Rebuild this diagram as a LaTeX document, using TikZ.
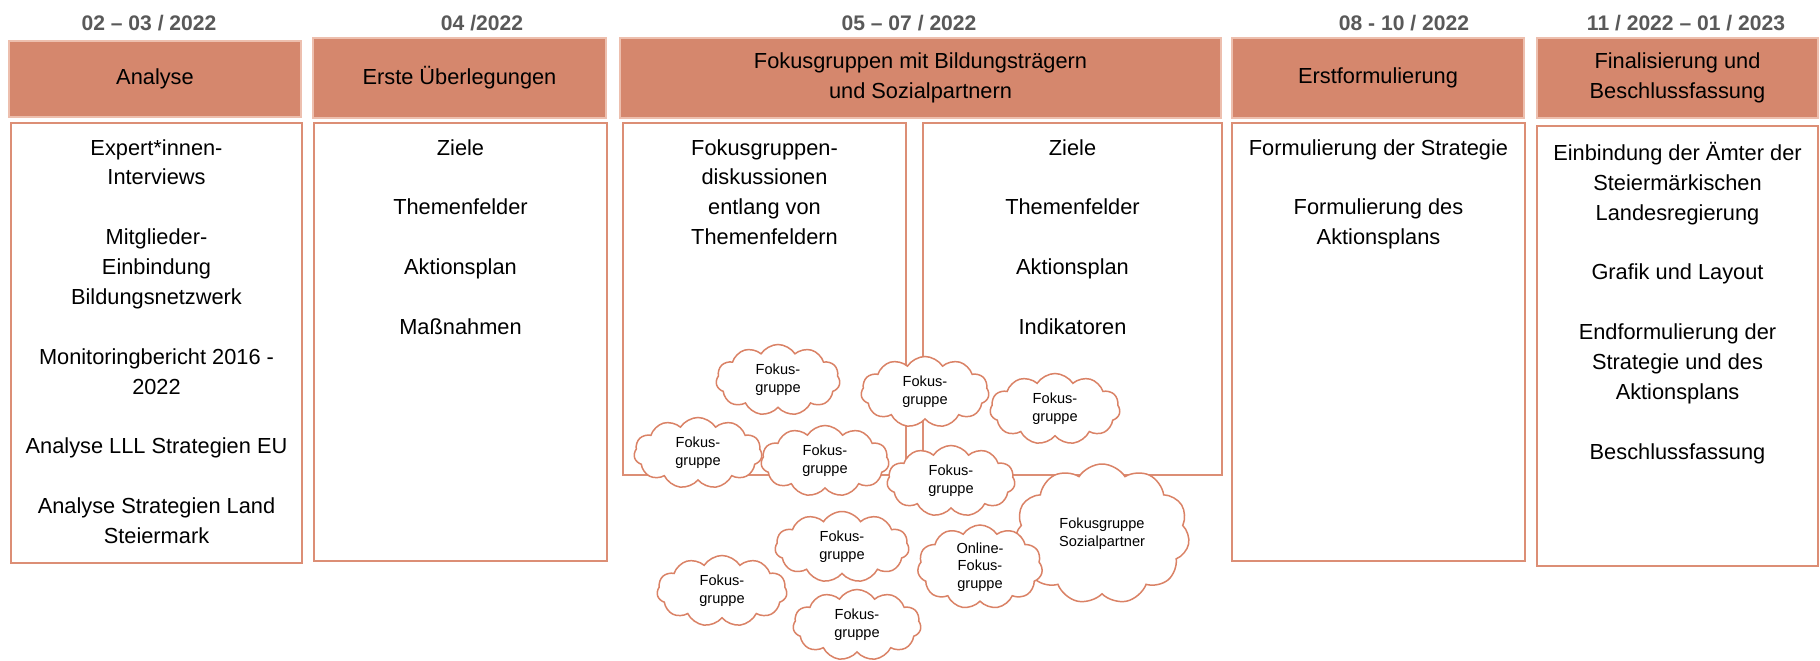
\documentclass[tikz,border=0pt]{standalone}
\usepackage{fontspec}
\setmainfont{Liberation Sans}
\usetikzlibrary{positioning, fit, shapes.symbols}
\definecolor{head-salmon}{HTML}{D5876D}
\definecolor{head-edge}{HTML}{EDBFAE}
\definecolor{line-salmon}{HTML}{DC8E75}
\definecolor{cloud-salmon}{HTML}{DA8266}
\definecolor{date-grey}{HTML}{595959}

\begin{document}
\begin{tikzpicture}[x=0.2mm, y=-0.2mm,
        every node/.style={font=\fontsize{12.4}{17}\selectfont},
        date/.style={font=\fontsize{12}{14}\selectfont\bfseries, text=date-grey},
        head/.style={fill=head-salmon, draw=head-edge, line width=0.25mm, inner sep=0},
        body/.style={draw=line-salmon, line width=0.45mm, inner sep=0},
        entry/.style={align=center, inner sep=0},
        fg/.style={cloud, cloud puffs=11, cloud puff arc=115, cloud ignores aspect,
            draw=cloud-salmon, line width=0.3mm, fill=white, align=center, inner sep=0,
            minimum width=25.6mm, minimum height=14.2mm,
            font=\fontsize{8.3}{10}\selectfont}]
      \useasboundingbox (0,0) rectangle (1820,661);
      % dates
      \node[date] (D1) at (149,23) {02 – 03 / 2022};
      \node[date] (D2) at (482,23) {04 /2022};
      \node[date] (D3) at (909,23) {05 – 07 / 2022};
      \node[date] (D4) at (1404,23) {08 - 10 / 2022};
      \node[date] (D5) at (1686,23) {11 / 2022 – 01 / 2023};
      % phase headers
      \node[head, fit={(9,41) (301,117)}] (H1) {};
      \node[head, fit={(313,38) (606,118)}] (H2) {};
      \node[head, fit={(620,38) (1221,118)}] (H3) {};
      \node[head, fit={(1232,38) (1524,118)}] (H4) {};
      \node[head, fit={(1537,38) (1818,118)}] (H5) {};
      \node[align=center] (H1T) at (H1.center) {Analyse};
      \node[align=center] (H2T) at (H2.center) {Erste Überlegungen};
      \node[align=center] (H3T) at (H3.center) {Fokusgruppen mit Bildungsträgern\\und Sozialpartnern};
      \node[align=center] (H4T) at (H4.center) {Erstformulierung};
      \node[align=center] (H5T) at (H5.center) {Finalisierung und\\Beschlussfassung};
      % content boxes
      \node[body, fit={(11,123) (302,563)}] (B1) {};
      \node[body, fit={(314,123) (607,561)}] (B2) {};
      \node[body, fit={(623,123) (906,475)}] (B3A) {};
      \node[body, fit={(923,123) (1222,475)}] (B3B) {};
      \node[body, fit={(1232,123) (1525,561)}] (B4) {};
      \node[body, fit={(1537,126) (1818,566)}] (B5) {};
      \node[entry, below=3.4mm of B1.north] (T1)
            {Expert*innen-\\Interviews\\[17pt]Mitglieder-\\Einbindung\\Bildungsnetzwerk\\[17pt]%
             Monitoringbericht 2016 -\\2022\\[17pt]Analyse LLL Strategien EU\\[17pt]%
             Analyse Strategien Land\\Steiermark};
      \node[entry, below=3.4mm of B2.north] (T2)
            {Ziele\\[17pt]Themenfelder\\[17pt]Aktionsplan\\[17pt]Maßnahmen};
      \node[entry, below=3.4mm of B3A.north] (T3A)
            {Fokusgruppen-\\diskussionen\\entlang von\\Themenfeldern};
      \node[entry, below=3.4mm of B3B.north] (T3B)
            {Ziele\\[17pt]Themenfelder\\[17pt]Aktionsplan\\[17pt]Indikatoren};
      \node[entry, below=3.4mm of B4.north] (T4)
            {Formulierung der Strategie\\[17pt]Formulierung des\\Aktionsplans};
      \node[entry, below=3.4mm of B5.north] (T5)
            {Einbindung der Ämter der\\Steiermärkischen\\Landesregierung\\[17pt]Grafik und Layout\\[17pt]%
             Endformulierung der\\Strategie und des\\Aktionsplans\\[17pt]Beschlussfassung};
      % focus groups
      \node[fg, minimum width=24.8mm] (FG1) at (778,380) {Fokus-\\gruppe};
      \node[fg] (FG2) at (925,392) {Fokus-\\gruppe};
      \node[fg, minimum width=26mm] (FG3) at (1055,409) {Fokus-\\gruppe};
      \node[fg] (FG4) at (698,453) {Fokus-\\gruppe};
      \node[fg] (FG5) at (825,461) {Fokus-\\gruppe};
      \node[fg] (FG6) at (951,481) {Fokus-\\gruppe};
      \node[fg, minimum width=35mm, minimum height=28mm] (FGSOZ) at (1102,534)
            {Fokusgruppe\\Sozialpartner};
      \node[fg, minimum width=26.8mm] (FG8) at (842,547) {Fokus-\\gruppe};
      \node[fg, minimum width=26mm] (FG9) at (722,591) {Fokus-\\gruppe};
      \node[fg, minimum width=25mm, minimum height=16.8mm] (FGON) at (980,567)
            {Online-\\Fokus-\\gruppe};
      \node[fg] (FG11) at (857,625) {Fokus-\\gruppe};
    \end{tikzpicture}
\end{document}
